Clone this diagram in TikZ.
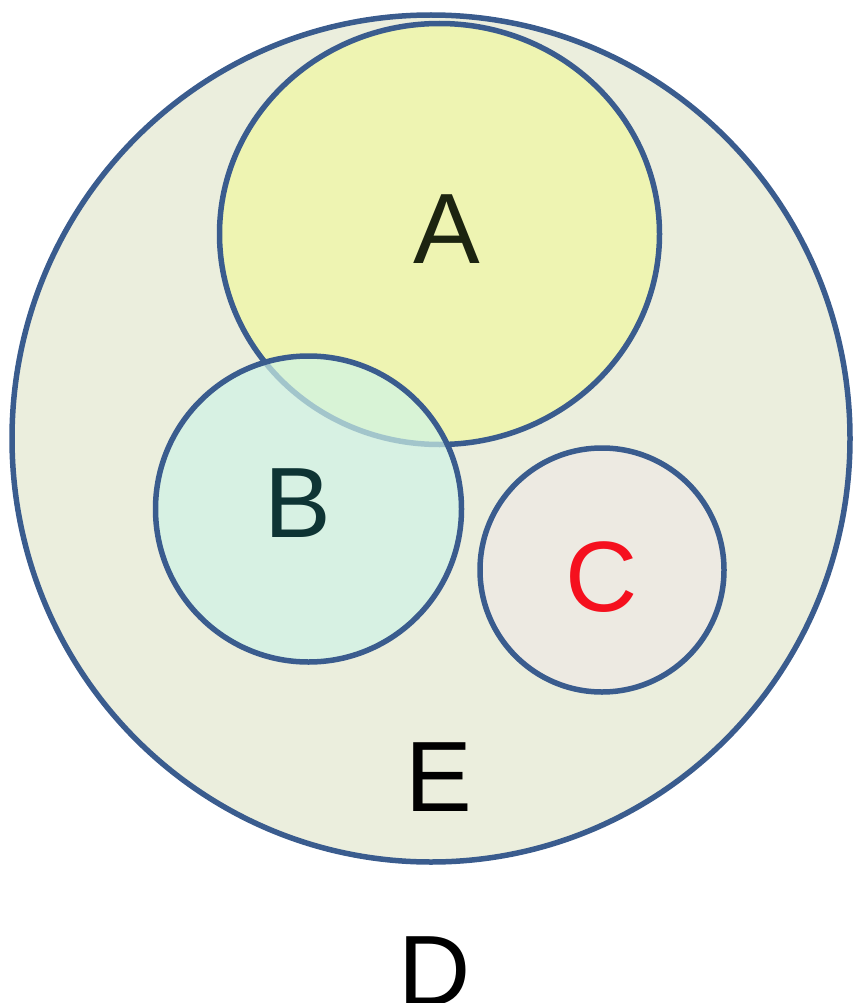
\documentclass[tikz,border=0pt]{standalone}
\usepackage{fontspec}
\setmainfont{Liberation Sans}
\definecolor{edge}{HTML}{3A5C8E}
\definecolor{fillD}{HTML}{EBEEDD}
\definecolor{fillA}{HTML}{EEF4B2}
\definecolor{fillB}{HTML}{CFF3E6}
\definecolor{fillC}{HTML}{EDEAE2}
\definecolor{txtA}{HTML}{1C2410}
\definecolor{txtB}{HTML}{0E3434}
\definecolor{txtC}{HTML}{F5101E}
\begin{document}
\begin{tikzpicture}[x=1pt,y=-1pt,
  setline/.style={draw=edge,line width=5.5pt},
  lab/.style={font=\fontsize{100}{100}\selectfont,anchor=base,inner sep=0pt}]
\useasboundingbox (0,0) rectangle (852,1003);
\draw[setline,fill=fillD] (431,438.5) ellipse [x radius=419,y radius=423.5];
\draw[setline,fill=fillA] (439.5,234) ellipse [x radius=220,y radius=210.5];
\fill[fillB,fill opacity=0.7] (308.5,509) circle [radius=153];
\draw[setline] (308.5,509) circle [radius=153];
\draw[setline,fill=fillC] (602,570) circle [radius=122];
\node[lab,text=txtA] (a) at (446.5,263) {A};
\node[lab,text=txtB] (b) at (297.5,537) {B};
\node[lab,text=txtC] (c) at (602,611) {C};
\node[lab,text=black] (e) at (438.5,811) {E};
\node[lab,text=black] (d) at (434.5,1005) {D};
\end{tikzpicture}
\end{document}
